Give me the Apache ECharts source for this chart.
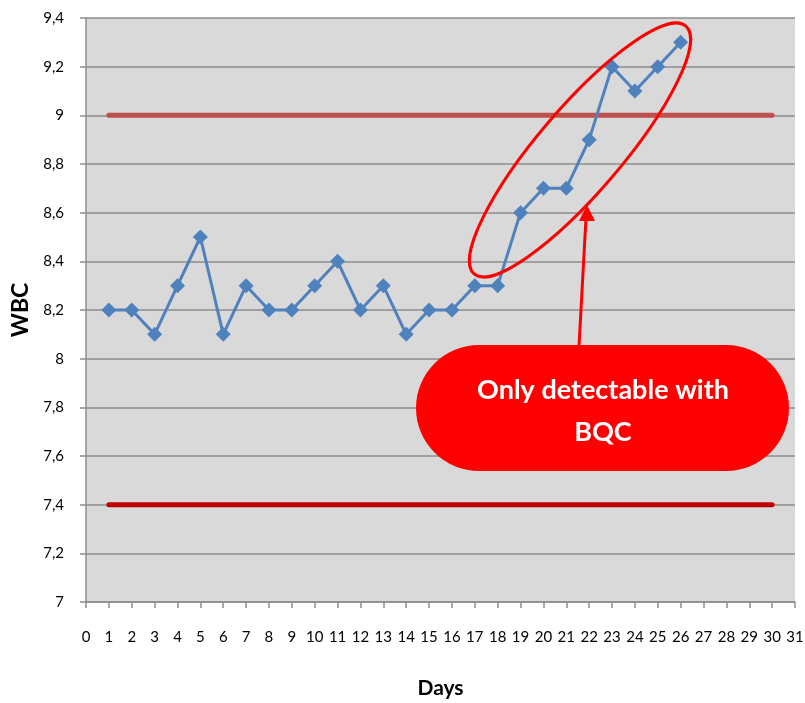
<!DOCTYPE html>
<html>
<head>
<meta charset="utf-8">
<script src="https://cdn.jsdelivr.net/npm/echarts@6/dist/echarts.min.js"></script>
<style>
html,body{margin:0;padding:0;background:#fff;}
#chart{width:805px;height:703px;}
</style>
</head>
<body>
<div id="chart"></div>
<script>
const days = [1,2,3,4,5,6,7,8,9,10,11,12,13,14,15,16,17,18,19,20,21,22,23,24,25,26];
const wbc = [8.2,8.2,8.1,8.3,8.5,8.1,8.3,8.2,8.2,8.3,8.4,8.2,8.3,8.1,8.2,8.2,8.3,8.3,8.6,8.7,8.7,8.9,9.2,9.1,9.2,9.3];
const upperLimit = 9.0;
const lowerLimit = 7.4;
const limitStartDay = 1;
const limitEndDay = 30;
const yTickLabels = ['7','7,2','7,4','7,6','7,8','8','8,2','8,4','8,6','8,8','9','9,2','9,4'];
const xTickLabels = Array.from({length: 32}, (_, i) => String(i));
const calloutText = 'Only detectable with\nBQC';

const chart = echarts.init(document.getElementById('chart'), null, {renderer: 'canvas'});
const font = 'Lato, "Open Sans", sans-serif';

const option = {
  animation: false,
  textStyle: {fontFamily: font},
  grid: {
    left: 86, right: 10, top: 18, bottom: 101,
    outerBoundsMode: 'none', containLabel: false,
    show: true, backgroundColor: '#d9d9d9', borderWidth: 0
  },
  xAxis: {
    type: 'value', min: 0, max: 31, interval: 1,
    name: 'Days', nameLocation: 'middle', nameGap: 76,
    nameTextStyle: {fontWeight: 'bold', fontSize: 21, color: '#000', fontFamily: font},
    axisLine: {show: true, lineStyle: {color: '#8c8c8c', width: 1.5}},
    axisTick: {show: true, length: 6, inside: false, lineStyle: {color: '#8c8c8c', width: 1.5}},
    axisLabel: {
      margin: 28, fontSize: 15, color: '#000', fontFamily: font,
      interval: 0, hideOverlap: false,
      formatter: v => xTickLabels[Math.round(v)]
    },
    splitLine: {show: false}
  },
  yAxis: {
    type: 'value', min: 7, max: 9.4, interval: 0.2,
    name: 'WBC', nameLocation: 'middle', nameGap: 50, nameRotate: 90,
    nameTextStyle: {fontWeight: 'bold', fontSize: 23, color: '#000', fontFamily: font},
    axisLine: {show: true, lineStyle: {color: '#8c8c8c', width: 1.5}},
    axisTick: {show: true, length: 6, inside: false, lineStyle: {color: '#8c8c8c', width: 1.5}},
    axisLabel: {
      margin: 22, fontSize: 15, color: '#000', fontFamily: font,
      formatter: v => yTickLabels[Math.round((v - 7) / 0.2)]
    },
    splitLine: {show: true, lineStyle: {color: '#8c8c8c', width: 1.5}}
  },
  series: [
    {
      type: 'line', name: 'Upper', silent: true, symbol: 'none',
      data: [[limitStartDay, upperLimit], [limitEndDay, upperLimit]],
      lineStyle: {color: '#c0504d', width: 5, cap: 'round'}, z: 2
    },
    {
      type: 'line', name: 'Lower', silent: true, symbol: 'none',
      data: [[limitStartDay, lowerLimit], [limitEndDay, lowerLimit]],
      lineStyle: {color: '#c00000', width: 5, cap: 'round'}, z: 2
    },
    {
      type: 'line', name: 'WBC',
      data: days.map((d, i) => [d, wbc[i]]),
      symbol: 'diamond', symbolSize: 15,
      itemStyle: {color: '#4f81bd'},
      lineStyle: {color: '#4f81bd', width: 3}, z: 3
    }
  ],
  graphic: [
    {
      type: 'ellipse', x: 580, y: 150, rotation: 49.5 * Math.PI / 180,
      shape: {cx: 0, cy: 0, rx: 163, ry: 42},
      style: {fill: 'none', stroke: '#ff0000', lineWidth: 3}, z: 10
    },
    {
      type: 'line', shape: {x1: 579, y1: 346, x2: 586, y2: 218},
      style: {stroke: '#ff0000', lineWidth: 3}, z: 10
    },
    {
      type: 'polygon', shape: {points: [[587, 205], [579, 221], [595, 221]]},
      style: {fill: '#ff0000'}, z: 10
    },
    {
      type: 'rect', shape: {x: 416, y: 345, width: 373, height: 126, r: 63},
      style: {fill: '#ff0000'}, z: 10
    },
    {
      type: 'text', x: 603, y: 411,
      style: {
        text: calloutText, fill: '#fff', font: 'bold 27px ' + font,
        align: 'center', verticalAlign: 'middle', lineHeight: 42
      }, z: 11
    }
  ]
};
chart.setOption(option);
</script>
</body>
</html>
